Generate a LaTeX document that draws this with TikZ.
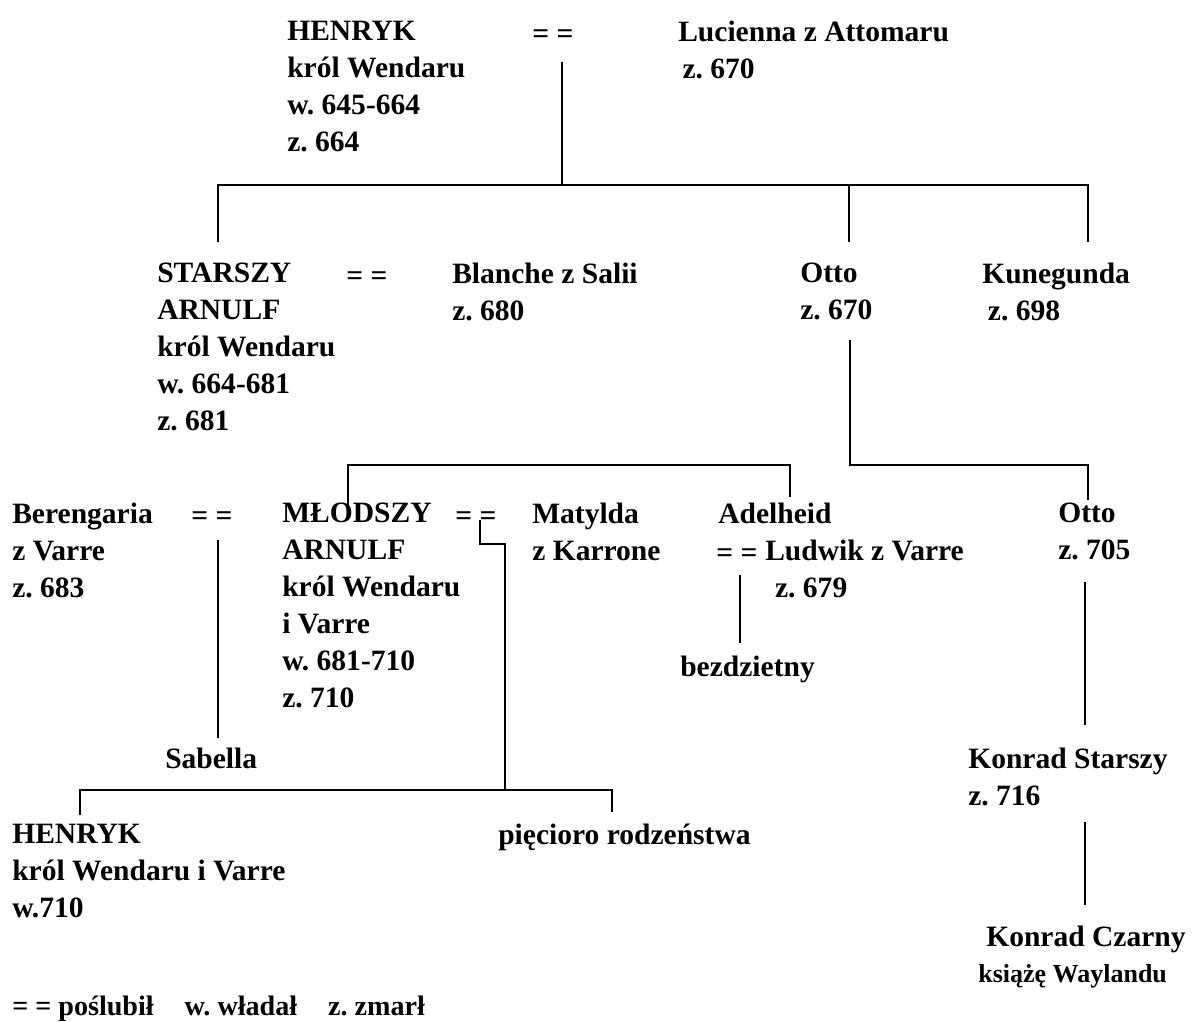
\documentclass[tikz,border=0pt]{standalone}
\usepackage{fontspec}
\setmainfont{Liberation Serif}
\frenchspacing
\usetikzlibrary{calc}
\tikzstyle{person} = [anchor=north west, align=left, inner sep=0pt,
    font=\bfseries\fontsize{21}{26.3}\selectfont]
\tikzstyle{marry} = [anchor=north, inner sep=0pt,
    font=\bfseries\fontsize{21}{26.3}\selectfont]
\tikzstyle{line} = [draw, line width=1.5pt]

\begin{document}
\begin{tikzpicture}[x=0.025cm, y=-0.025cm]
    \useasboundingbox (0,0) rectangle (1192,1021);
    % Nodes
    \node [person] (henryk) at (287,21) {HENRYK\\król Wendaru\\w. 645-664\\z. 664};
    \node [marry] (eq1) at (553,29) {= =};
    \node [person] (lucienna) at (678,21) {Lucienna z Attomaru\\\hspace*{3pt}z. 670};

    \node [person] (starszy) at (157,263) {STARSZY\\ARNULF\\król Wendaru\\w. 664-681\\z. 681};
    \node [marry] (eq2) at (367,271) {= =};
    \node [person] (blanche) at (452,263) {Blanche z Salii\\z. 680};
    \node [person] (otto) at (800,263) {Otto\\z. 670};
    \node [person] (kunegunda) at (982,263) {Kunegunda\\\hspace*{4pt}z. 698};

    \node [person] (berengaria) at (12,503) {Berengaria\\z Varre\\z. 683};
    \node [marry] (eq3) at (212,511) {= =};
    \node [person] (mlodszy) at (282,503) {MŁODSZY\\ARNULF\\król Wendaru\\i Varre\\w. 681-710\\z. 710};
    \node [marry] (eq4) at (476,511) {= =};
    \node [person] (matylda) at (532,503) {Matylda\\z Karrone};
    \node [person] (adelheid) at (718,503) {Adelheid};
    \node [marry] (eq5) at (737,548) {= =};
    \node [person] (ludwik) at (765,540) {Ludwik z Varre\\\hspace*{7pt}z. 679};
    \node [person] (otto2) at (1058,503) {Otto\\z. 705};

    \node [person] (bezdzietny) at (680,656) {bezdzietny};
    \node [person] (sabella) at (165,748) {Sabella};
    \node [person] (konrad) at (968,748) {Konrad Starszy\\z. 716};
    \node [person] (henryk2) at (12,824) {HENRYK\\król Wendaru i Varre\\w.710};
    \node [person] (rodzenstwo) at (498,824) {pięcioro rodzeństwa};
    \node [person] (czarny) at (986,926) {Konrad Czarny};
    \node [person, font=\bfseries\fontsize{18.5}{24}\selectfont] (ksiaze) at (978,964) {książę Waylandu};
    \node [person, font=\bfseries\fontsize{20}{24}\selectfont] (legend) at (12,996) {= = poślubił\hspace{1.1em}w. władał\hspace{1.1em}z. zmarł};

    % Junctions
    \coordinate (c1) at (562,62);
    \coordinate (bar1) at (562,185);
    \coordinate (s1) at (218,242);
    \coordinate (s2) at (849,242);
    \coordinate (s3) at (1088,242);
    \coordinate (o1) at (850,340);
    \coordinate (bar3) at (850,465);
    \coordinate (o2) at (1088,500);
    \coordinate (bar2) at (570,465);
    \coordinate (a1) at (348,505);
    \coordinate (a2) at (790,497);
    \coordinate (b1) at (218,540);
    \coordinate (b2) at (218,738);
    \coordinate (k1) at (480,520);
    \coordinate (k2) at (505,544);
    \coordinate (bar4) at (505,790);
    \coordinate (h1) at (80,815);
    \coordinate (r1) at (612,812);
    \coordinate (l1) at (740,575);
    \coordinate (l2) at (740,643);
    \coordinate (t1) at (1085,582);
    \coordinate (t2) at (1085,725);
    \coordinate (t3) at (1085,822);
    \coordinate (t4) at (1085,905);

    % Edges
    \path [line] (c1) -- (bar1);
    \path [line] (s1) |- (bar1) -| (s3);
    \path [line] (bar1 -| s2) -- (s2);
    \path [line] (o1) -- (bar3) -| (o2);
    \path [line] (a1) |- (bar2) -| (a2);
    \path [line] (b1) -- (b2);
    \path [line] (k1) |- (k2) -- (bar4);
    \path [line] (h1) |- (bar4) -| (r1);
    \path [line] (l1) -- (l2);
    \path [line] (t1) -- (t2);
    \path [line] (t3) -- (t4);
\end{tikzpicture}
\end{document}
